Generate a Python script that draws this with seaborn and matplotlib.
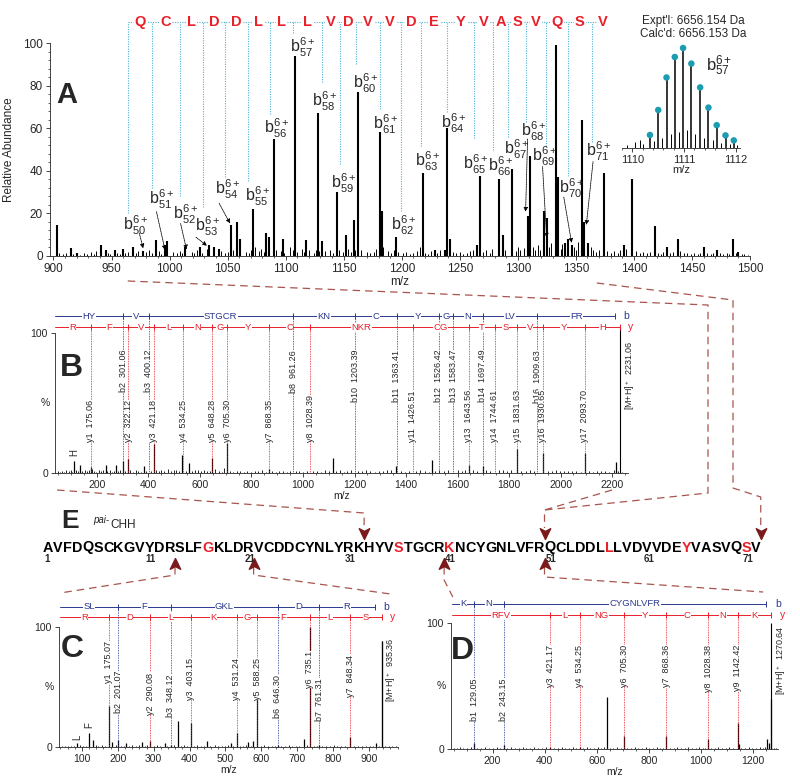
import numpy as np
import pandas as pd
import matplotlib.pyplot as plt
import matplotlib.transforms as mtransforms
from matplotlib.path import Path
from matplotlib.ticker import MultipleLocator
import seaborn as sns

# ---------------- data ----------------
# A: top-down spectrum, b ions (6+), (m/z, relative abundance)
a_peaks = [(902.8, 14.6), (915.1, 3.6), (920.5, 1.5), (940.7, 5), (944.9, 3), (952.6, 2.8),
           (959.7, 3.4), (968.2, 4), (977.3, 2.5), (988.1, 7.5), (996.1, 5), (998.1, 7),
           (1013.7, 4), (1026.5, 4), (1034.2, 5), (1037.9, 4), (1042.2, 3.5), (1052.7, 14.6),
           (1057.8, 16), (1060.6, 8), (1071.5, 22), (1083.4, 11), (1085.4, 9), (1089.9, 54.7),
           (1097.9, 8), (1108.4, 94), (1117.5, 7.7), (1127.5, 67), (1131.7, 7), (1144, 30),
           (1151.6, 10), (1158.7, 17), (1162.4, 77), (1180.9, 58), (1182.9, 21), (1194.9, 9),
           (1218.4, 38.9), (1228.4, 3), (1237, 3), (1239.4, 60), (1241.5, 8), (1264.4, 5),
           (1267, 37.5), (1283.4, 36), (1287.4, 10), (1294.6, 41), (1308.4, 19), (1310.3, 47),
           (1322.7, 21), (1324.7, 18), (1332.5, 99), (1334.2, 37), (1340.5, 6), (1343.4, 8),
           (1346.3, 5), (1354.9, 64), (1357.2, 16), (1360.7, 6), (1374.5, 39), (1391.7, 5),
           (1398, 36), (1418.1, 14), (1428.2, 4), (1437.7, 8), (1460.7, 4), (1471.3, 3),
           (1485.7, 8), (1490, 2)]
a_noise = [(905, 1.2), (908, 0.8), (911, 1.5), (917, 1.0), (923, 0.7), (926, 1.4), (929, 0.9),
           (932, 1.8), (935, 1.1), (937, 2.2), (947, 1.3), (949, 0.8), (955, 1.6), (957, 1.0),
           (962, 1.2), (964, 2.0), (971, 1.5), (973, 2.4), (980, 1.8), (982, 3.0), (985, 1.6),
           (991, 2.2), (993, 1.0), (1003, 1.8), (1006, 1.2), (1009, 2.4), (1011, 1.4), (1019, 2.0),
           (1021, 1.2), (1024, 2.8), (1028, 1.6), (1032, 3.2), (1044, 2.4), (1048, 1.2), (1050, 2.0),
           (1055, 3.0), (1066, 2.0), (1068, 1.4), (1070, 2.6), (1074, 4.0), (1077, 2.2), (1079, 3.5),
           (1081, 1.8), (1092, 3.0), (1096, 2.4), (1099, 1.6), (1104, 4.2), (1106, 3.0), (1110, 2.0),
           (1114, 3.4), (1116, 1.8), (1120, 2.6), (1124, 1.6), (1126, 3.0), (1129, 2.4), (1134, 2.2),
           (1138, 3.0), (1141, 1.6), (1146, 2.6), (1149, 2.0), (1154, 3.4), (1156, 2.0), (1160, 2.8),
           (1165, 3.0), (1170, 2.0), (1173, 1.4), (1176, 1.8), (1178, 3.2), (1184, 4.0), (1188, 2.2),
           (1191, 1.6), (1193, 2.8), (1197, 2.0), (1201, 1.2), (1204, 1.8), (1207, 1.0), (1210, 1.6),
           (1213, 2.4), (1216, 4.0), (1220, 1.6), (1223, 1.0), (1225, 2.2), (1230, 1.4), (1233, 2.6),
           (1244, 2.0), (1247, 1.2), (1250, 1.8), (1253, 1.0), (1256, 1.6), (1259, 2.4), (1261, 3.0),
           (1270, 2.0), (1273, 2.8), (1276, 1.6), (1278, 3.4), (1289, 3.0), (1298, 2.4), (1300, 4.0),
           (1302, 2.6), (1305, 3.6), (1313, 4.2), (1315, 2.6), (1317, 5.0), (1319, 3.0), (1327, 4.4),
           (1329, 6.0), (1337, 3.2), (1338, 5.5), (1348, 4.0), (1350, 3.0), (1352, 6.5), (1363, 4.2),
           (1365, 2.8), (1367, 2.0), (1370, 3.0), (1377, 2.2), (1380, 1.6), (1383, 2.4), (1386, 1.4),
           (1388, 2.6), (1393, 3.2), (1402, 2.4), (1405, 1.6), (1408, 2.0), (1411, 1.2), (1414, 1.8),
           (1421, 1.6), (1423, 1.0), (1425, 2.0), (1431, 1.4), (1434, 1.8), (1440, 2.2), (1443, 1.2),
           (1446, 1.6), (1449, 1.0), (1452, 1.4), (1455, 1.0), (1457, 1.6), (1463, 1.2), (1466, 0.8),
           (1468, 1.4), (1474, 1.2), (1477, 0.8), (1480, 1.2), (1482, 1.0), (1488, 1.4), (1493, 1.0),
           (1495, 0.8), (1498, 0.6)]
a_residues = ["Q", "C", "L", "D", "D", "L", "L", "L", "V", "D", "V", "V", "D", "E", "Y",
              "V", "A", "S", "V", "Q", "S", "V"]
a_cut_mz = [964, 984.7, 1008.9, 1029.1, 1047.9, 1067.2, 1086.2, 1106.4, 1131.7, 1146.8, 1161,
            1180.9, 1199.1, 1217, 1239.1, 1262.4, 1279, 1291.7, 1307.2, 1324.5, 1343.4, 1363.5]
a_last_residue_mz = 1373.6
a_cut_bottom = [20, 32, 28, 23, 37, 35, 66.5, 104.7, 81.5, 43, 90, 69, 21, 51.7, 67.5, 55.6,
                50, 56, 63, 51.7, 37.6, 53.4]
a_ion_num = ["50", "51", "52", "53", "54", "55", "56", "57", "58", "59", "60", "61", "62",
             "63", "64", "65", "66", "67", "68", "69", "70", "71"]
a_label_mz = [959.7, 981.9, 1002.9, 1021.8, 1038.8, 1064.9, 1081.1, 1103.9, 1122.6, 1138.8,
              1158.2, 1175.2, 1190.9, 1211.2, 1233.4, 1252.9, 1274, 1288.5, 1302.6, 1312.4,
              1335.4, 1358.4]
a_label_int = [12.2, 24, 17, 11.4, 28.7, 25.5, 57.7, 95.6, 70.2, 31.8, 78.8, 59.6, 12.2, 42,
               60, 40.4, 39.6, 47.5, 56.1, 44.3, 29.5, 46.7]
a_arrow_from = [(973.9, 10.7), (988.7, 20.8), (1009.5, 15.2), (1022.8, 8.8), (1042.7, 24.7),
                (1308.4, 54.9), (1321.3, 42), (1339.6, 27.6), (1364.8, 44.3)]
a_arrow_to = [(977.3, 3.6), (996.1, 2.8), (1014.6, 3.1), (1032.2, 4.8), (1052.1, 15.3),
              (1306.7, 20.8), (1324.8, 8.7), (1346.3, 6.2), (1359, 14.6)]

# inset: isotope cluster of b57 6+
iso_mz = [1110.34, 1110.50, 1110.66, 1110.82, 1110.98, 1111.14, 1111.31, 1111.47, 1111.63,
          1111.80, 1111.96]
iso_int = [13, 38, 70.5, 91, 100, 84.4, 60.6, 40.4, 22.8, 12.6, 7.6]
iso_noise = [(1109.9, 3), (1110.05, 6), (1110.14, 8), (1110.2, 4), (1110.42, 7), (1110.58, 10),
             (1110.74, 14), (1110.9, 16), (1111.06, 18), (1111.22, 14), (1111.39, 10),
             (1111.55, 8), (1111.72, 5), (1111.88, 4), (1112.02, 3)]

# B: HYVSTGCRKNCYGNLVFR
b_peaks = [(110.5, 8.4), (136, 6), (175.1, 4), (234, 5.5), (273, 6), (301.1, 8.6), (322.1, 10.3),
           (381, 5), (421.2, 20.5), (532, 13), (559, 7), (648.3, 11), (705.3, 21.5), (868.4, 3),
           (1117, 11), (1362, 5), (1500, 9.5), (1643.6, 6), (1697.5, 5), (1831.6, 17),
           (1930.7, 14), (2093.7, 14), (2214, 8)]
b_noise = [(48, 1.2), (56, 0.8), (64, 1.5), (72, 1.0), (80, 2.2), (90, 1.4), (98, 1.8), (104, 1.0),
           (118, 2.0), (126, 1.2), (142, 1.6), (152, 2.4), (160, 1.2), (168, 1.8), (182, 2.6),
           (190, 1.4), (198, 1.0), (206, 2.0), (214, 1.2), (222, 1.8), (240, 1.4), (250, 2.2),
           (258, 1.0), (266, 1.6), (282, 1.2), (290, 2.0), (310, 1.4), (330, 1.8), (340, 1.0),
           (350, 2.2), (360, 1.4), (370, 1.0), (390, 1.6), (410, 1.2), (430, 1.8), (440, 1.2),
           (450, 2.4), (462, 1.4), (474, 2.6), (488, 1.2), (498, 1.8), (508, 2.2), (518, 1.2),
           (544, 1.6), (568, 1.2), (580, 1.8), (592, 2.0), (604, 1.4), (616, 2.2), (628, 1.6),
           (638, 1.2), (660, 2.6), (672, 1.4), (684, 1.0), (694, 3.4), (716, 1.4), (730, 1.0),
           (742, 1.6), (756, 1.2), (770, 1.0), (784, 1.4), (798, 1.0), (812, 1.6), (826, 1.2),
           (842, 1.8), (856, 1.0), (880, 1.4), (894, 1.0), (908, 1.6), (922, 1.2), (936, 1.0),
           (950, 1.4), (972, 1.2), (986, 1.6), (1000, 1.0), (1014, 1.4), (1040, 1.2), (1056, 1.6),
           (1070, 1.0), (1084, 2.0), (1100, 1.4), (1130, 1.2), (1144, 1.8), (1158, 1.0),
           (1172, 1.4), (1186, 2.0), (1214, 1.6), (1230, 1.2), (1246, 1.8), (1262, 1.4),
           (1278, 1.0), (1294, 1.6), (1310, 1.2), (1326, 1.8), (1342, 2.4), (1380, 1.4),
           (1396, 1.0), (1412, 1.6), (1440, 1.2), (1456, 1.8), (1472, 1.4), (1488, 1.0),
           (1514, 1.6), (1530, 2.0), (1546, 1.4), (1562, 1.8), (1600, 2.2), (1616, 1.4),
           (1630, 1.8), (1660, 2.0), (1676, 1.6), (1710, 2.2), (1726, 1.6), (1760, 2.0),
           (1776, 2.4), (1792, 1.4), (1808, 1.8), (1848, 1.6), (1864, 1.2), (1880, 1.8),
           (1896, 1.4), (1950, 1.6), (1966, 1.2), (1982, 1.8), (1998, 1.4), (2014, 1.2),
           (2030, 1.6), (2046, 1.2), (2062, 1.4), (2078, 1.0), (2110, 1.4), (2126, 1.0),
           (2142, 1.6), (2158, 1.2), (2174, 1.4), (2190, 1.0), (2206, 1.8), (2222, 1.2), (2240, 1.0)]
b_b_ions = ["b2", "b3", "b8", "b10", "b11", "b12", "b13", "b14", "b16"]
b_b_mz = ["301.06", "400.12", "961.26", "1203.39", "1363.41", "1526.42", "1583.47", "1697.49", "1909.63"]
b_b_res = ["HY", "V", "STGCR", "KN", "C", "Y", "G", "N", "LV", "FR"]
b_y_ions = ["y1", "y2", "y3", "y4", "y5", "y6", "y7", "y8", "y11", "y13", "y14", "y15", "y16", "y17"]
b_y_mz = ["175.06", "322.12", "421.18", "534.25", "648.28", "705.30", "868.35", "1028.39",
          "1426.51", "1643.56", "1744.61", "1831.63", "1930.65", "2093.70"]
b_y_res = ["R", "F", "V", "L", "N", "G", "Y", "C", "NKR", "CG", "T", "S", "V", "Y", "H"]
b_mh = "2231.06"

# C: SLFGKLDR
c_peaks = [(86.8, 3), (120.2, 12), (129.5, 6), (175.07, 34), (185, 4), (201.07, 6), (224, 3),
           (266, 4), (290.08, 5), (331, 3), (348.12, 2), (368.4, 21.7), (403.15, 20), (447.4, 5),
           (515, 3), (531.24, 12), (563.6, 4), (577.5, 5), (588.25, 74), (646.3, 2), (718.8, 7),
           (735.1, 100), (761.31, 2), (848.34, 8), (919.6, 3), (935.36, 88)]
c_noise = [(45, 1.0), (52, 0.6), (60, 1.2), (70, 0.8), (78, 1.0), (95, 1.4), (104, 0.8), (112, 1.2),
           (138, 2.0), (146, 1.0), (155, 1.4), (163, 0.8), (194, 1.6), (210, 1.0), (218, 0.8),
           (232, 1.2), (240, 2.0), (250, 1.0), (258, 1.4), (275, 1.0), (282, 1.6), (300, 1.0),
           (310, 1.4), (318, 0.8), (338, 1.2), (356, 1.4), (376, 1.0), (385, 1.4), (392, 0.8),
           (412, 1.2), (420, 1.6), (432, 1.0), (440, 1.2), (458, 1.0), (470, 1.4), (480, 0.8),
           (490, 1.2), (500, 1.0), (508, 1.4), (522, 0.8), (540, 1.2), (548, 1.0), (556, 1.4),
           (570, 1.2), (598, 1.0), (608, 1.4), (618, 0.8), (630, 1.2), (638, 1.0), (656, 1.2),
           (666, 0.8), (676, 1.4), (686, 1.0), (696, 1.2), (706, 0.8), (726, 1.4), (746, 1.0),
           (754, 0.8), (770, 1.2), (780, 0.8), (792, 1.0), (802, 1.4), (812, 0.8), (822, 1.2),
           (834, 1.0), (858, 1.2), (870, 0.8), (880, 1.0), (892, 1.2), (902, 0.8), (910, 1.0),
           (928, 1.2), (945, 0.8), (955, 1.0), (965, 0.6), (975, 0.8)]
c_b_ions = ["b2", "b3", "b6", "b7"]
c_b_mz = ["201.07", "348.12", "646.30", "761.31"]
c_b_res = ["SL", "F", "GKL", "D", "R"]
c_y_ions = ["y1", "y2", "y3", "y4", "y5", "y6", "y7"]
c_y_mz = ["175.07", "290.08", "403.15", "531.24", "588.25", "735.1", "848.34"]
c_y_res = ["R", "D", "L", "K", "G", "F", "L", "S"]
c_mh = "935.36"

# D: KNCYGNLVFR
d_peaks = [(129.05, 5), (243.15, 3), (421.17, 1.5), (534.25, 1.5), (639, 41.5), (705.3, 10.3),
           (868.36, 10.3), (1028.38, 8), (1142.42, 20.6), (1148, 4), (1255, 8), (1262, 5),
           (1270.64, 40)]
d_noise = [(50, 1.0), (62, 0.8), (75, 1.2), (88, 0.8), (100, 1.0), (115, 1.4), (140, 0.8), (155, 1.0),
           (170, 1.2), (185, 0.8), (200, 1.0), (215, 1.2), (228, 0.8), (255, 1.0), (270, 1.4),
           (285, 0.8), (300, 1.0), (315, 1.2), (330, 0.8), (345, 1.0), (360, 1.2), (375, 0.8),
           (390, 1.0), (405, 1.4), (435, 0.8), (450, 1.0), (465, 1.2), (480, 0.8), (495, 1.0),
           (510, 1.2), (520, 0.8), (548, 1.0), (562, 1.2), (576, 0.8), (590, 1.0), (604, 1.2),
           (618, 0.8), (628, 1.4), (650, 1.0), (664, 0.8), (678, 1.2), (692, 0.8), (718, 1.0),
           (732, 0.8), (746, 1.2), (760, 0.8), (774, 1.0), (788, 1.2), (802, 0.8), (816, 1.0),
           (830, 1.2), (844, 0.8), (856, 1.0), (882, 0.8), (896, 1.0), (910, 1.2), (924, 0.8),
           (938, 1.0), (952, 1.2), (966, 0.8), (980, 1.0), (994, 1.2), (1008, 0.8), (1016, 1.0),
           (1040, 0.8), (1054, 1.0), (1068, 1.2), (1082, 0.8), (1096, 1.0), (1110, 1.2),
           (1124, 0.8), (1156, 1.0), (1170, 0.8), (1184, 1.2), (1198, 0.8), (1212, 1.0),
           (1226, 1.2), (1240, 0.8), (1248, 1.4), (1280, 1.0), (1290, 0.6)]
d_b_ions = ["b1", "b2"]
d_b_mz = ["129.05", "243.15"]
d_b_res = ["K", "N", "CYGNLVFR"]
d_y_ions = ["y3", "y4", "y6", "y7", "y8", "y9"]
d_y_mz = ["421.17", "534.25", "705.30", "868.36", "1028.38", "1142.42"]
d_y_res = ["RFV", "L", "NG", "Y", "C", "N", "K"]
d_mh = "1270.64"

# E: full sequence of pai-CHH
e_sequence = "AVFDQSCKGVYDRSLFGKLDRVCDDCYNLYRKHYVSTGCRKNCYGNLVFRQCLDDLLLVDVVDEYVASVQSV"
e_red = [17, 36, 41, 57, 65, 71]
e_numbers = [1, 11, 21, 31, 41, 51, 61, 71]
e_cut_down = [32, 50, 72]
e_cut_up = [13, 21, 40, 50]

# ---------------- style ----------------
sns.set_style("ticks")
plt.rcParams['font.family'] = ['Liberation Sans', 'DejaVu Sans']
plt.rcParams['mathtext.fontset'] = 'custom'
plt.rcParams['mathtext.rm'] = 'Liberation Sans'
plt.rcParams['mathtext.it'] = 'Liberation Sans:italic'
plt.rcParams['mathtext.bf'] = 'Liberation Sans:bold'
plt.rcParams['mathtext.default'] = 'regular'
plt.rcParams['axes.linewidth'] = 0.6

BLUE = '#2b3990'
RED = '#e8202a'
CYAN = '#4fb3d9'
TEAL = '#1c9cb0'
DASH = '#a8554d'
DARK = '#7b1a1a'

W, H = 800, 780
fig = plt.figure(figsize=(8, 7.8), dpi=100)


def px_axes(x0, y0, x1, y1):
    return fig.add_axes([x0 / W, 1 - y1 / H, (x1 - x0) / W, (y1 - y0) / H])


def style_axes(ax, fs):
    sns.despine(ax=ax)
    ax.patch.set_alpha(0)
    ax.tick_params(which='major', labelsize=fs, length=3, width=0.6, pad=2)
    ax.tick_params(which='minor', length=1.5, width=0.5)


def ladder(ax, tr, bounds, letters, y, color, end, box_h):
    dy = 3.0 / box_h
    ax.plot([bounds[0], bounds[-1]], [y, y], color=color, lw=0.7, transform=tr, clip_on=False)
    ax.vlines(bounds[1:], y - dy, y + dy, color=color, lw=0.7, transform=tr, clip_on=False)
    for a, b, s in zip(bounds[:-1], bounds[1:], letters):
        ax.text((a + b) / 2, y, s, color=color, fontsize=6.8, ha='center', va='center',
                transform=tr, clip_on=False, zorder=5,
                bbox=dict(fc='white', ec='none', pad=0.2))
    ax.annotate(end, xy=(bounds[-1], y), xycoords=tr, xytext=(6, 0), textcoords='offset points',
                color=color, fontsize=7.5, ha='left', va='center')


def draw_ms2(ax, box_h, peaks, noise, start, b_ions, b_mz, b_res, y_ions, y_mz, y_res, mh,
             mh_top, b_lad, y_lad, b_lab, b_va, y_lab, y_va, mh_lab):
    tr = mtransforms.blended_transform_factory(ax.transData, ax.transAxes)
    nz = pd.DataFrame(noise, columns=['mz', 'int'])
    pk = pd.DataFrame(peaks, columns=['mz', 'int'])
    ax.vlines(nz['mz'], 0, nz['int'], color='black', lw=0.6)
    ax.vlines(pk['mz'], 0, pk['int'], color='black', lw=0.9)
    bx = [float(v) for v in b_mz]
    yx = [float(v) for v in y_mz]
    mhx = float(mh)
    ax.vlines(bx, 0, b_lad, color=BLUE, lw=0.6, ls=(0, (1, 1)), transform=tr, clip_on=False)
    ax.vlines(yx, 0, y_lad, color=RED, lw=0.6, ls=(0, (1, 1)), transform=tr, clip_on=False)
    ax.vlines([mhx], 0, mh_top, color='black', lw=0.8, transform=tr, clip_on=False)
    ladder(ax, tr, [start] + bx + [mhx - 18.01], b_res, b_lad, BLUE, 'b', box_h)
    ladder(ax, tr, [start] + yx + [mhx], y_res, y_lad, RED, 'y', box_h)
    lab = dict(rotation=90, fontsize=6.5, ha='center', transform=tr, clip_on=False, zorder=4,
               bbox=dict(fc='white', ec='none', pad=0.2))
    b_lab = np.broadcast_to(b_lab, len(b_ions))
    y_lab = np.broadcast_to(y_lab, len(y_ions))
    for name, v, x, yl in zip(b_ions, b_mz, bx, b_lab):
        ax.text(x, yl, f"{name}  {v}", va=b_va, **lab)
    for name, v, x, yl in zip(y_ions, y_mz, yx, y_lab):
        ax.text(x, yl, f"{name}  {v}", va=y_va, **lab)
    ax.annotate(f"[M+H]$^+$  {mh}", xy=(mhx, mh_lab), xycoords=tr, xytext=(2, 0),
                textcoords='offset points', rotation=90, fontsize=6.5, ha='left', va='top')
    ax.set_ylim(0, 100)
    ax.set_yticks([0, 100])
    style_axes(ax, 7.5)
    ax.set_xlabel('m/z', fontsize=7.5, labelpad=1)
    return tr


# ---------------- panel A ----------------
axA = px_axes(50, 43, 750, 256)
an = pd.DataFrame(a_noise, columns=['mz', 'int'])
ap = pd.DataFrame(a_peaks, columns=['mz', 'int'])
axA.vlines(an['mz'], 0, an['int'], color='black', lw=0.7)
axA.vlines(ap['mz'], 0, ap['int'], color='black', lw=1.5)
axA.set_xlim(897, 1500)
axA.set_ylim(0, 100)
axA.xaxis.set_major_locator(MultipleLocator(50))
axA.xaxis.set_minor_locator(MultipleLocator(10))
axA.yaxis.set_major_locator(MultipleLocator(20))
axA.yaxis.set_minor_locator(MultipleLocator(4))
style_axes(axA, 8.5)
axA.set_xlabel('m/z', fontsize=8.5, labelpad=1)
axA.set_ylabel('Relative Abundance', fontsize=8.5, labelpad=6)

seq_level = 109.7
axA.vlines(a_cut_mz, a_cut_bottom, seq_level, color=CYAN, lw=0.8, ls=(0, (1, 1.2)), clip_on=False)
axA.hlines(seq_level, a_cut_mz[0], a_last_residue_mz, color=CYAN, lw=0.8, ls=(0, (1, 1.2)), clip_on=False)
res_x = [(a + b) / 2 for a, b in zip(a_cut_mz[:-1], a_cut_mz[1:])] + [a_last_residue_mz]
for x, s in zip(res_x, a_residues):
    axA.text(x, seq_level, s, color=RED, fontsize=10.5, fontweight='bold', ha='center',
             va='center', clip_on=False, bbox=dict(fc='white', ec='none', pad=0.8))
for n, x, y in zip(a_ion_num, a_label_mz, a_label_int):
    axA.text(x, y, rf"$b^{{6+}}_{{{n}}}$", fontsize=11.5, ha='left', va='baseline', clip_on=False)
for p0, p1 in zip(a_arrow_from, a_arrow_to):
    axA.annotate("", xy=p1, xytext=p0,
                 arrowprops=dict(arrowstyle='-|>', color='black', lw=0.6, ls=(0, (1, 1)),
                                 shrinkA=0, shrinkB=0, mutation_scale=6))

# inset
axI = px_axes(622, 44, 740, 148)
isn = pd.DataFrame(iso_noise, columns=['mz', 'int'])
axI.vlines(isn['mz'], 0, isn['int'], color='black', lw=0.7)
axI.vlines(iso_mz, 0, iso_int, color='black', lw=1.1)
iso_df = pd.DataFrame({'mz': iso_mz, 'int': iso_int})
sns.scatterplot(data=iso_df, x='mz', y='int', ax=axI, color=TEAL, s=22, edgecolor='none',
                zorder=5, clip_on=False)
axI.set_xlim(1109.8, 1112.08)
axI.set_ylim(0, 104)
axI.set_xticks([1110, 1111, 1112])
axI.xaxis.set_minor_locator(MultipleLocator(0.2))
axI.set_yticks([])
style_axes(axI, 8)
sns.despine(ax=axI, left=True)
axI.set_xlabel('m/z', fontsize=8, labelpad=0)
axI.set_ylabel('')

# ---------------- panel B ----------------
axB = px_axes(55, 333, 628, 473)
axB.set_xlim(37, 2262)
trB = draw_ms2(axB, 140, b_peaks, b_noise, 37, b_b_ions, b_b_mz, b_b_res, b_y_ions, b_y_mz,
               b_y_res, b_mh, 1.04, 1.118, 1.04, 0.88, 'top', 0.22, 'bottom', 0.95)
axB.set_xticks([200, 400, 600, 800, 1000, 1200, 1400, 1600, 1800, 2000, 2200])
axB.xaxis.set_minor_locator(MultipleLocator(50))
axB.set_xlim(37, 2262)
axB.text(110.5, 0.143, 'H', rotation=90, fontsize=7, ha='center', va='center', transform=trB)
axB.text(-10 / 573, 0.5, '%', transform=axB.transAxes, fontsize=7.5, ha='center', va='center')

# ---------------- panel C ----------------
axC = px_axes(59, 627, 398, 747)
axC.set_xlim(36, 981)
trC = draw_ms2(axC, 120, c_peaks, c_noise, 39, c_b_ions, c_b_mz, c_b_res, c_y_ions, c_y_mz,
               c_y_res, c_mh, 0.88, 1.169, 1.081, [0.28, 0.25, 0.24, 0.22], 'bottom',
               [0.88, 0.62, 0.74, 0.74, 0.74, 0.80, 0.77], 'top', 0.917)
axC.set_xticks([100, 200, 300, 400, 500, 600, 700, 800, 900])
axC.xaxis.set_minor_locator(MultipleLocator(20))
axC.set_xlim(36, 981)
axC.text(86.8, 0.08, 'L', rotation=90, fontsize=7, ha='center', va='center', transform=trC)
axC.text(120.2, 0.18, 'F', rotation=90, fontsize=7, ha='center', va='center', transform=trC)
axC.text(-10 / 339, 0.5, '%', transform=axC.transAxes, fontsize=7.5, ha='center', va='center')

# ---------------- panel D ----------------
axD = px_axes(451, 623, 778, 749)
axD.set_xlim(40, 1297)
trD = draw_ms2(axD, 126, d_peaks, d_noise, 45, d_b_ions, d_b_mz, d_b_res, d_y_ions, d_y_mz,
               d_y_res, d_mh, 1.0, 1.151, 1.063, 0.563, 'top', 0.825, 'top', 0.984)
axD.set_xticks([200, 400, 600, 800, 1000, 1200])
axD.xaxis.set_minor_locator(MultipleLocator(50))
axD.set_xlim(40, 1297)
axD.text(-10 / 327, 0.5, '%', transform=axD.transAxes, fontsize=7.5, ha='center', va='center')

# ---------------- overlay: labels, sequence, connectors ----------------
ov = fig.add_axes([0, 0, 1, 1], zorder=10)
ov.set_xlim(0, W)
ov.set_ylim(H, 0)
ov.axis('off')
ov.patch.set_alpha(0)

for s, x, y, fs in [('A', 67, 95, 21), ('B', 71, 368, 23), ('C', 72, 649, 23),
                    ('D', 462, 651, 23), ('E', 70, 521, 19)]:
    ov.text(x, y, s, fontsize=fs, fontweight='bold', ha='center', va='center')
ov.text(693, 21, "Expt'l: 6656.154 Da", fontsize=8.5, ha='center', va='center')
ov.text(693, 34, "Calc'd: 6656.153 Da", fontsize=8.5, ha='center', va='center')
ov.text(706, 71, r"$b^{6+}_{57}$", fontsize=12, ha='left', va='baseline')
ov.text(93, 523, "pai-", fontsize=7, style='italic', ha='left', va='baseline')
ov.text(110, 528, "CHH", fontsize=8.5, ha='left', va='baseline')

renderer = fig.canvas.get_renderer()
widths = []
for ch in e_sequence:
    t = ov.text(0, 0, ch, fontsize=10, fontweight='bold')
    widths.append(t.get_window_extent(renderer).width)
    t.remove()
seq_fs = 10 * 714 / sum(widths)
x = 43
edges = []
for i, ch in enumerate(e_sequence):
    col = RED if (i + 1) in e_red else 'black'
    t = ov.text(x, 551.5, ch, fontsize=seq_fs, fontweight='bold', color=col, ha='left', va='baseline')
    w = t.get_window_extent(renderer).width
    edges.append((x, x + w))
    x += w
for n in e_numbers:
    ov.text(edges[n - 1][0] + 1, 554.5, str(n), fontsize=7, fontweight='bold', ha='left', va='top')

after = {k: edges[k - 1][1] for k in set(e_cut_down + e_cut_up)}


def fx(ax, m):
    return ax.transData.transform((m, 0))[0]


def dashed(pts):
    xs, ys = zip(*pts)
    ov.plot(xs, ys, color=DASH, lw=0.9, ls=(0, (6, 4)))


dashed([(fx(axA, 964), 281), (708, 305), (708, 493), (after[50], 510), (after[50], 528)])
dashed([(fx(axA, 1368), 283), (733, 300), (733, 488), (after[72], 497), (after[72], 528)])
dashed([(fx(axB, 45), 490), (after[32], 513), (after[32], 528)])
dashed([(fx(axB, 2200), 490), (after[50], 510)])
dashed([(after[13], 567), (after[13], 575), (fx(axC, 39), 593)])
dashed([(after[21], 567), (after[21], 575), (fx(axC, 960), 594)])
dashed([(after[40], 567), (after[40], 580), (fx(axD, 47), 597)])
dashed([(after[50], 567), (after[50], 577), (fx(axD, 1240), 592)])

dart_down = Path([(0, -1), (-0.75, 0.55), (0, 0.15), (0.75, 0.55), (0, -1)],
                 [Path.MOVETO, Path.LINETO, Path.LINETO, Path.LINETO, Path.CLOSEPOLY])
dart_up = Path([(0, 1), (-0.75, -0.55), (0, -0.15), (0.75, -0.55), (0, 1)],
               [Path.MOVETO, Path.LINETO, Path.LINETO, Path.LINETO, Path.CLOSEPOLY])
ov.plot([after[k] for k in e_cut_down], [532] * len(e_cut_down), ls='none', marker=dart_down,
        ms=10, color=DARK)
ov.plot([after[k] for k in e_cut_up], [565] * len(e_cut_up), ls='none', marker=dart_up,
        ms=10, color=DARK)

fig.savefig('out.png', dpi=100)
